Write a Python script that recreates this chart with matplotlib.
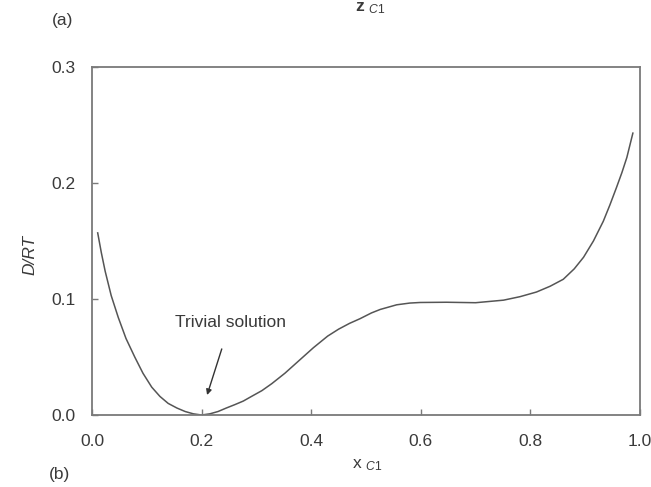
import matplotlib
matplotlib.use("Agg")
import matplotlib.pyplot as plt

# Data
x_c1 = [0.0104, 0.017, 0.024, 0.035, 0.048, 0.062, 0.078, 0.093, 0.109, 0.124, 0.139, 0.155,
        0.170, 0.185, 0.200, 0.215, 0.230, 0.245, 0.261, 0.276, 0.291, 0.310, 0.328, 0.352,
        0.378, 0.404, 0.430, 0.450, 0.470, 0.489, 0.510, 0.526, 0.556, 0.580, 0.599, 0.647,
        0.700, 0.751, 0.781, 0.811, 0.836, 0.860, 0.880, 0.897, 0.915, 0.933, 0.945, 0.957,
        0.967, 0.976, 0.987]
d_rt = [0.157, 0.140, 0.124, 0.103, 0.084, 0.066, 0.050, 0.036, 0.024, 0.016, 0.010, 0.006,
        0.003, 0.001, 0.0, 0.001, 0.003, 0.006, 0.009, 0.012, 0.016, 0.021, 0.027, 0.036,
        0.047, 0.058, 0.068, 0.074, 0.079, 0.083, 0.088, 0.091, 0.095, 0.0965, 0.097, 0.0972,
        0.0968, 0.099, 0.102, 0.106, 0.111, 0.117, 0.126, 0.136, 0.150, 0.167, 0.181, 0.196,
        0.209, 0.222, 0.243]

x_ticks = [0.0, 0.2, 0.4, 0.6, 0.8, 1.0]
y_ticks = [0.0, 0.1, 0.2, 0.3]

plt.rcParams['font.family'] = ['Liberation Sans', 'DejaVu Sans']
plt.rcParams['mathtext.fontset'] = 'custom'
plt.rcParams['mathtext.rm'] = 'Liberation Sans'
plt.rcParams['mathtext.it'] = 'Liberation Sans:italic'
plt.rcParams['mathtext.bf'] = 'Liberation Sans:bold'

W, H = 651, 487
fig = plt.figure(figsize=(W / 100, H / 100), dpi=100)
ax = fig.add_axes([92 / W, 1 - 415 / H, (640 - 92) / W, (415 - 67) / H])

txt = '#3a3a3a'
spine_c = '#7a7a7a'
fs = 12.5
ax.plot(x_c1, d_rt, color='#555555', lw=1.1)

ax.set_xlim(0, 1.0)
ax.set_ylim(0, 0.3)
ax.set_xticks(x_ticks)
ax.set_yticks(y_ticks)
ax.set_xticklabels([f"{v:.1f}" for v in x_ticks])
ax.set_yticklabels([f"{v:.1f}" for v in y_ticks])
ax.tick_params(axis='both', direction='in', length=4, width=1, color=spine_c,
               labelsize=fs, labelcolor=txt)
ax.tick_params(axis='x', pad=14)
ax.tick_params(axis='y', pad=12)
for s in ax.spines.values():
    s.set_color(spine_c)
    s.set_linewidth(1.3)

ax.annotate('Trivial solution', xy=(0.21, 0.0172), xycoords='data',
            xytext=(0.252, 0.0795), textcoords='data',
            ha='center', va='center', fontsize=fs, color=txt,
            arrowprops=dict(arrowstyle='-|>', color='#333333', lw=1,
                            shrinkA=12, shrinkB=0, mutation_scale=8))

fig.text(30 / W, 1 - 255 / H, 'D/RT', rotation=90, ha='center', va='center',
         fontsize=fs, color=txt, style='italic')
fig.text(367 / W, 1 - 465 / H, r'x $_{\mathit{C1}}$', ha='center', va='center',
         fontsize=fs, color=txt)
fig.text(370 / W, 1 - 8 / H, r'$\mathbf{z}$ $_{\mathit{C1}}$', ha='center', va='center',
         fontsize=fs, color=txt)
fig.text(63 / W, 1 - 21 / H, '(a)', ha='center', va='center', fontsize=fs, color=txt)
fig.text(59 / W, 1 - 475 / H, '(b)', ha='center', va='center', fontsize=fs, color=txt)

fig.savefig('out.png', dpi=100, facecolor='white')
